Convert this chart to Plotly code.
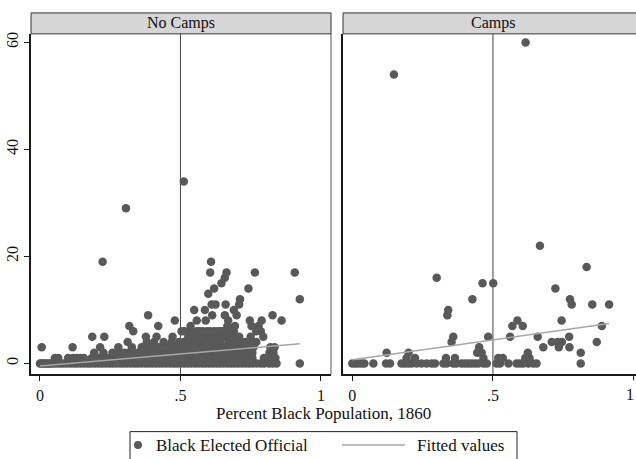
import plotly.graph_objects as go

# Number of Black elected officials by county, against 1860 Black population share.
# Each row: officials count, then the population shares of the counties at that count.
nocamp_levels = [0, 1, 2, 3, 4, 5, 6, 7, 8, 9, 10, 11, 12, 13, 14, 15, 16, 17, 19, 29, 34]
nocamp_shares = [
    [0.000, 0.005, 0.011, 0.016, 0.022, 0.029, 0.035, 0.042, 0.050, 0.061, 0.072, 0.083,
     0.095, 0.108, 0.121, 0.133, 0.146, 0.158, 0.171, 0.183, 0.196, 0.209, 0.221, 0.234,
     0.247, 0.259, 0.272, 0.285, 0.297, 0.310, 0.323, 0.336, 0.348, 0.361, 0.374, 0.386,
     0.399, 0.412, 0.425, 0.437, 0.450, 0.463, 0.476, 0.488, 0.501, 0.514, 0.527, 0.539,
     0.552, 0.565, 0.578, 0.590, 0.603, 0.616, 0.629, 0.641, 0.654, 0.667, 0.680, 0.692,
     0.705, 0.718, 0.731, 0.744, 0.757, 0.771, 0.786, 0.798, 0.815, 0.828, 0.842, 0.925],
    [0.053, 0.065, 0.100, 0.118, 0.131, 0.143, 0.156, 0.184, 0.196, 0.209, 0.222, 0.235,
     0.248, 0.261, 0.274, 0.287, 0.300, 0.313, 0.326, 0.339, 0.352, 0.365, 0.378, 0.391,
     0.404, 0.417, 0.430, 0.443, 0.456, 0.469, 0.482, 0.495, 0.508, 0.521, 0.534, 0.547,
     0.560, 0.573, 0.586, 0.599, 0.612, 0.625, 0.638, 0.651, 0.664, 0.677, 0.690, 0.703,
     0.716, 0.729, 0.742, 0.756, 0.797, 0.822, 0.838],
    [0.193, 0.226, 0.258, 0.285, 0.301, 0.318, 0.334, 0.349, 0.363, 0.378, 0.392, 0.407,
     0.421, 0.436, 0.450, 0.465, 0.479, 0.494, 0.508, 0.523, 0.537, 0.552, 0.566, 0.581,
     0.595, 0.610, 0.624, 0.639, 0.653, 0.668, 0.682, 0.697, 0.711, 0.726, 0.740, 0.756,
     0.817, 0.831],
    [0.006, 0.116, 0.214, 0.279, 0.327, 0.362, 0.377, 0.392, 0.407, 0.422, 0.437, 0.452,
     0.467, 0.482, 0.497, 0.512, 0.527, 0.542, 0.557, 0.572, 0.587, 0.602, 0.617, 0.632,
     0.647, 0.662, 0.677, 0.692, 0.707, 0.722, 0.737, 0.750, 0.760, 0.820, 0.835],
    [0.312, 0.380, 0.406, 0.440, 0.468, 0.495, 0.512, 0.527, 0.541, 0.556, 0.570, 0.585,
     0.599, 0.614, 0.628, 0.643, 0.672, 0.686, 0.701, 0.715, 0.730, 0.748, 0.770],
    [0.186, 0.229, 0.377, 0.415, 0.472, 0.528, 0.538, 0.546, 0.562, 0.578, 0.593, 0.603,
     0.612, 0.620, 0.630, 0.646, 0.655, 0.668, 0.680, 0.690, 0.709, 0.750, 0.795],
    [0.332, 0.504, 0.515, 0.535, 0.558, 0.568, 0.580, 0.595, 0.605, 0.620, 0.633, 0.642,
     0.652, 0.662, 0.674, 0.690, 0.770, 0.786],
    [0.318, 0.421, 0.536, 0.667, 0.694, 0.753, 0.778],
    [0.480, 0.558, 0.590, 0.670, 0.747, 0.789, 0.860],
    [0.385, 0.613, 0.658, 0.700, 0.828],
    [0.549, 0.587, 0.690],
    [0.611, 0.625, 0.661, 0.709],
    [0.712, 0.925],
    [0.599],
    [0.620, 0.742],
    [0.646],
    [0.658],
    [0.606, 0.664, 0.765, 0.907],
    [0.223, 0.609],
    [0.306],
    [0.512],
]

camp_levels = [0, 1, 2, 3, 4, 5, 7, 8, 9, 10, 11, 12, 14, 15, 16, 18, 22, 54, 60]
camp_shares = [
    [0.000, 0.010, 0.021, 0.033, 0.043, 0.075, 0.120, 0.134, 0.175, 0.187, 0.199, 0.211,
     0.229, 0.246, 0.264, 0.282, 0.294, 0.324, 0.336, 0.359, 0.370, 0.388, 0.400, 0.412,
     0.424, 0.436, 0.448, 0.466, 0.478, 0.513, 0.525, 0.555, 0.584, 0.596, 0.608, 0.626,
     0.643, 0.655, 0.812],
    [0.193, 0.223, 0.333, 0.365, 0.466, 0.519, 0.535, 0.615, 0.630],
    [0.122, 0.200, 0.444, 0.460, 0.624, 0.812],
    [0.451, 0.679, 0.734, 0.772],
    [0.353, 0.709, 0.730, 0.745, 0.869],
    [0.359, 0.483, 0.561, 0.659, 0.771],
    [0.569, 0.606, 0.887],
    [0.587, 0.744],
    [0.338],
    [0.341],
    [0.780, 0.853, 0.913],
    [0.427, 0.774],
    [0.722],
    [0.463, 0.501],
    [0.300],
    [0.833],
    [0.667],
    [0.148],
    [0.616],
]

# Linear fit endpoints (share, fitted officials) for each panel
nocamp_fit_x = [0.0, 0.925]
nocamp_fit_y = [-0.5, 3.66]
camp_fit_x = [0.0, 0.913]
camp_fit_y = [0.7, 7.46]

panel_titles = ["No Camps", "Camps"]
x_tickvals = [0, 0.5, 1]
x_ticktext = ["0", ".5", "1"]
y_tickvals = [0, 20, 40, 60]
x_title = "Percent Black Population, 1860"
legend_labels = ["Black Elected Official", "Fitted values"]

W, H = 636, 459
FONT = "'Liberation Serif', 'Times New Roman', 'DejaVu Serif', serif"
FS = 17
DOT = "#595959"
FIT = "#a6a6a6"
INK = "#1a1a1a"
TXT = "#111111"


def expand(levels, shares):
    xs, ys = [], []
    for lvl, row in zip(levels, shares):
        xs.extend(row)
        ys.extend([lvl] * len(row))
    return xs, ys


def px_x(p):
    return p / W


def px_y(p):
    return 1 - p / H


nc_x, nc_y = expand(nocamp_levels, nocamp_shares)
c_x, c_y = expand(camp_levels, camp_shares)

fig = go.Figure()
marker = dict(color=DOT, size=8.5, line=dict(width=0))
fig.add_trace(go.Scatter(x=nc_x, y=nc_y, mode="markers", marker=marker,
                         xaxis="x", yaxis="y", showlegend=False, hoverinfo="skip"))
fig.add_trace(go.Scatter(x=c_x, y=c_y, mode="markers", marker=marker,
                         xaxis="x2", yaxis="y2", showlegend=False, hoverinfo="skip"))
fig.add_trace(go.Scatter(x=nocamp_fit_x, y=nocamp_fit_y, mode="lines",
                         line=dict(color=FIT, width=1.5),
                         xaxis="x", yaxis="y", showlegend=False, hoverinfo="skip"))
fig.add_trace(go.Scatter(x=camp_fit_x, y=camp_fit_y, mode="lines",
                         line=dict(color=FIT, width=1.5),
                         xaxis="x2", yaxis="y2", showlegend=False, hoverinfo="skip"))

# panel geometry in pixels
left_l, left_r = 31, 331
right_l, right_r = 343, 636
plot_top, plot_bot = 32, 374
strip_top = 11

y_range = [-2.05, 61.6]
ydom = [px_y(plot_bot), px_y(plot_top)]

tick_font = dict(family=FONT, size=16, color=TXT)
axis_common = dict(showgrid=False, zeroline=False, showline=True, linecolor=INK,
                   linewidth=2, ticks="outside", ticklen=5, tickwidth=1,
                   tickcolor=INK, tickfont=tick_font)

fig.update_layout(
    width=W, height=H,
    margin=dict(l=0, r=0, t=0, b=0),
    paper_bgcolor="white", plot_bgcolor="white",
    font=dict(family=FONT, size=FS, color=TXT),
    xaxis=dict(domain=[px_x(left_l), px_x(left_r)], range=[-0.032, 1.036],
               tickvals=x_tickvals, ticktext=x_ticktext, anchor="y", **axis_common),
    # the right panel's last tick sits on the page edge; its label is added below
    xaxis2=dict(domain=[px_x(right_l), px_x(right_r)], range=[-0.033, 1.0085],
                tickvals=x_tickvals[:2], ticktext=x_ticktext[:2], anchor="y2",
                **axis_common),
    yaxis=dict(domain=ydom, range=y_range, tickvals=y_tickvals, tickangle=-90,
               anchor="x", **axis_common),
    yaxis2=dict(domain=ydom, range=y_range, tickvals=y_tickvals, showticklabels=False,
                anchor="x2", **{**axis_common, "ticks": ""}),
)

shapes = []
# reference line at one-half Black population in each panel
for xr in ["x", "x2"]:
    shapes.append(dict(type="line", xref=xr, yref="y domain", x0=0.5, x1=0.5, y0=0, y1=1,
                       line=dict(color="#444444", width=1), layer="below"))
# tick mark for the right panel's last tick
shapes.append(dict(type="line", xref="x2", yref="paper", x0=x_tickvals[2], x1=x_tickvals[2],
                   y0=px_y(plot_bot + 1), y1=px_y(plot_bot + 6),
                   line=dict(color=INK, width=1)))
# right border of the left panel
shapes.append(dict(type="line", xref="paper", yref="paper",
                   x0=px_x(left_r), x1=px_x(left_r), y0=px_y(plot_bot), y1=px_y(plot_top),
                   line=dict(color="#555555", width=1)))
# strip headers
for (l, r) in [(left_l, left_r), (right_l, right_l + 300)]:
    shapes.append(dict(type="rect", xref="paper", yref="paper",
                       x0=px_x(l), x1=px_x(r), y0=px_y(plot_top), y1=px_y(strip_top),
                       fillcolor="#d6d6d6", line=dict(color="#333333", width=1)))

# legend box and keys
leg_l, leg_r, leg_t, leg_mid = 130, 517, 431.5, 445
shapes.append(dict(type="rect", xref="paper", yref="paper",
                   x0=px_x(leg_l), x1=px_x(leg_r), y0=px_y(475), y1=px_y(leg_t),
                   fillcolor="white", line=dict(color="#222222", width=1)))
shapes.append(dict(type="circle", xref="paper", yref="paper",
                   x0=px_x(134), x1=px_x(142), y0=px_y(leg_mid + 4), y1=px_y(leg_mid - 4),
                   fillcolor=DOT, line=dict(width=0)))
shapes.append(dict(type="line", xref="paper", yref="paper",
                   x0=px_x(342), x1=px_x(405), y0=px_y(leg_mid), y1=px_y(leg_mid),
                   line=dict(color=FIT, width=1.5)))
fig.update_layout(shapes=shapes)

annotations = []
for (l, r), title in zip([(left_l, left_r), (right_l, right_l + 300)], panel_titles):
    annotations.append(dict(text=title, xref="paper", yref="paper",
                            x=px_x((l + r) / 2), y=px_y((strip_top + plot_top) / 2),
                            xanchor="center", yanchor="middle", showarrow=False,
                            font=dict(family=FONT, size=16, color=TXT)))
# last right-panel tick label, kept inside the page edge
annotations.append(dict(text=x_ticktext[2], xref="paper", yref="paper",
                        x=1.0, y=px_y(394), xanchor="right", yanchor="middle",
                        showarrow=False, font=tick_font))
annotations.append(dict(text=x_title, xref="paper", yref="paper",
                        x=px_x(323.5), y=px_y(413), xanchor="center", yanchor="middle",
                        showarrow=False, font=dict(family=FONT, size=FS, color=TXT)))
annotations.append(dict(text=legend_labels[0], xref="paper", yref="paper",
                        x=px_x(154), y=px_y(leg_mid), xanchor="left", yanchor="middle",
                        showarrow=False, font=dict(family=FONT, size=FS, color=TXT)))
annotations.append(dict(text=legend_labels[1], xref="paper", yref="paper",
                        x=px_x(415), y=px_y(leg_mid), xanchor="left", yanchor="middle",
                        showarrow=False, font=dict(family=FONT, size=FS, color=TXT)))
fig.update_layout(annotations=annotations)

fig.write_html("out.html")
